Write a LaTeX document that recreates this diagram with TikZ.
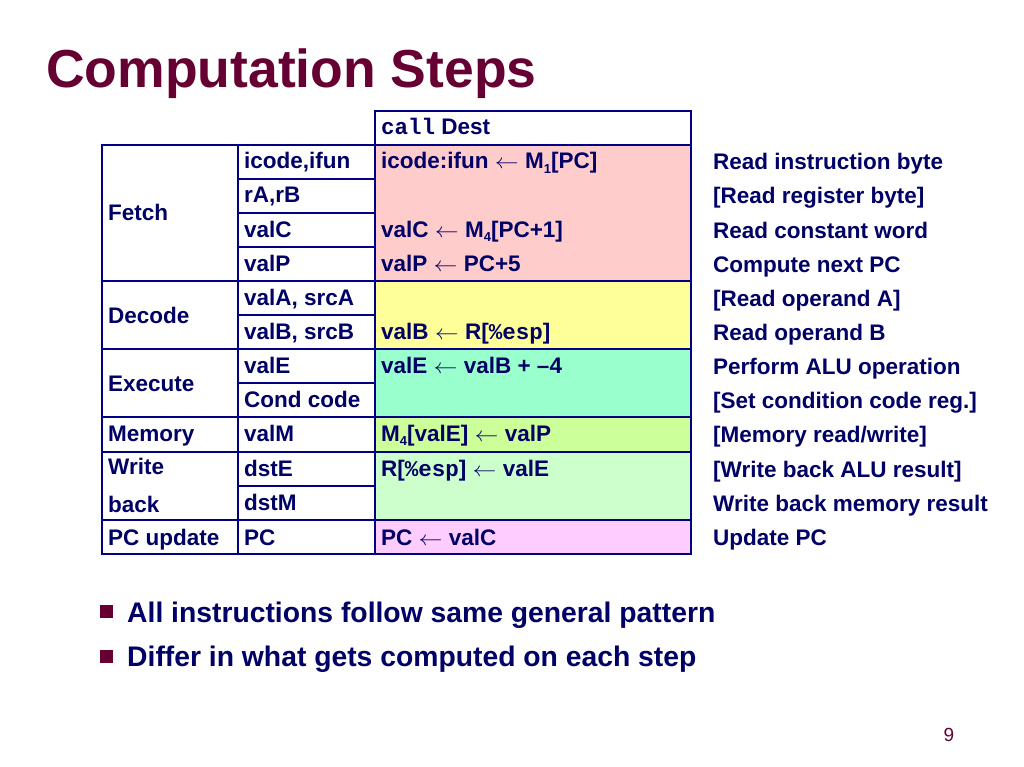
\documentclass[tikz,border=0pt]{standalone}
\usepackage{fontspec}
\setmainfont{Liberation Sans}
\setmonofont{Liberation Mono}
\definecolor{navy}{HTML}{000080}
\definecolor{txt}{HTML}{000066}
\definecolor{maroon}{HTML}{660033}
\definecolor{fetchc}{HTML}{FFCCCC}
\definecolor{decodec}{HTML}{FFFF99}
\definecolor{execc}{HTML}{99FFCC}
\definecolor{memc}{HTML}{CCFF99}
\definecolor{wbc}{HTML}{CCFFCC}
\definecolor{pcc}{HTML}{FFCCFF}
\newcommand\sbs[1]{\raisebox{-0.22em}{\fontsize{13}{13}\selectfont #1}}
\newcommand\la{ \scalebox{1.15}[1]{$\leftarrow$} }
\tikzset{
  cell/.style={anchor=base west, inner sep=0pt, font=\fontsize{22.5}{27}\selectfont\bfseries, text=txt},
  grid/.style={draw=navy, line width=2pt},
  bullsq/.style={fill=maroon, minimum size=13pt, inner sep=0pt, draw=none},
  bulltext/.style={anchor=base west, inner sep=0pt, font=\fontsize{28.3}{34}\selectfont\bfseries, text=txt},
}
\begin{document}
\begin{tikzpicture}[x=1pt,y=-1pt]
\useasboundingbox[fill=white] (0,0) rectangle (1024,767);
% title
\node[anchor=base west, inner sep=0pt, font=\fontsize{53.5}{60}\selectfont\bfseries, text=maroon] (title) at (46,88) {Computation Steps};
% fills
\fill[fetchc]  (375,145) rectangle (691,281);
\fill[decodec] (375,281) rectangle (691,349);
\fill[execc]   (375,349) rectangle (691,417);
\fill[memc]    (375,417) rectangle (691,452);
\fill[wbc]     (375,452) rectangle (691,520);
\fill[pcc]     (375,520) rectangle (691,554);
% grid
\draw[grid] (102,145) rectangle (238,554);
\foreach \y in {281,349,417,452,520} \draw[grid] (102,\y) -- (238,\y);
\draw[grid] (238,145) rectangle (375,554);
\foreach \y in {179,213,247,281,315,349,383,417,452,486,520} \draw[grid] (238,\y) -- (375,\y);
\draw[grid] (375,111) rectangle (691,554);
\foreach \y in {145,281,349,417,452,520} \draw[grid] (375,\y) -- (691,\y);
% stage labels
\node[cell] (sfetch) at (108,221) {Fetch};
\node[cell] (sdecode) at (108,323) {Decode};
\node[cell] (sexec) at (108,391) {Execute};
\node[cell] (smem) at (108,441) {Memory};
\node[cell] (swrite) at (108,474) {Write};
\node[cell] (sback) at (108,512) {back};
\node[cell] (spc) at (108,545) {PC update};
% values column
\node[cell] (v1) at (244,169) {icode,ifun};
\node[cell] (v2) at (244,203) {rA,rB};
\node[cell] (v3) at (244,237) {valC};
\node[cell] (v4) at (244,271) {valP};
\node[cell] (v5) at (244,305) {valA, srcA};
\node[cell] (v6) at (244,339) {valB, srcB};
\node[cell] (v7) at (244,373) {valE};
\node[cell] (v8) at (244,407) {Cond code};
\node[cell] (v9) at (244,441) {valM};
\node[cell] (v10) at (244,476) {dstE};
\node[cell] (v11) at (244,510) {dstM};
\node[cell] (v12) at (244,545) {PC};
% computation column
\node[cell] (c0) at (381,135) {{\ttfamily call} Dest};
\node[cell] (c1) at (381,169) {icode:ifun\la M\sbs{1}[PC]};
\node[cell] (c3) at (381,237) {valC\la M\sbs{4}[PC+1]};
\node[cell] (c4) at (381,271) {valP\la PC+5};
\node[cell] (c6) at (381,339) {valB\la R[{\ttfamily\%esp}]};
\node[cell] (c7) at (381,373) {valE\la valB + –4};
\node[cell] (c9) at (381,441) {M\sbs{4}[valE]\la valP};
\node[cell] (c10) at (381,476) {R[{\ttfamily\%esp}]\la valE};
\node[cell] (c12) at (381,545) {PC\la valC};
% descriptions
\node[cell] (d1) at (713,170) {Read instruction byte};
\node[cell] (d2) at (713,204) {[Read register byte]};
\node[cell] (d3) at (713,238) {Read constant word};
\node[cell] (d4) at (713,272) {Compute next PC};
\node[cell] (d5) at (713,306) {[Read operand A]};
\node[cell] (d6) at (713,340) {Read operand B};
\node[cell] (d7) at (713,374) {Perform ALU operation};
\node[cell] (d8) at (713,408) {[Set condition code reg.]};
\node[cell] (d9) at (713,442) {[Memory read/write]};
\node[cell] (d10) at (713,477) {[Write back ALU result]};
\node[cell] (d11) at (713,511) {Write back memory result};
\node[cell] (d12) at (713,545) {Update PC};
% bullets
\node[bullsq] (bs1) at (106.5,611) {};
\node[bulltext] (bt1) at (127,622) {All instructions follow same general pattern};
\node[bullsq] (bs2) at (106.5,656) {};
\node[bulltext] (bt2) at (127,666) {Differ in what gets computed on each step};
% page number
\node[anchor=base, inner sep=0pt, font=\fontsize{19}{19}\selectfont, text=maroon] (pg) at (949,741) {9};
\end{tikzpicture}
\end{document}
